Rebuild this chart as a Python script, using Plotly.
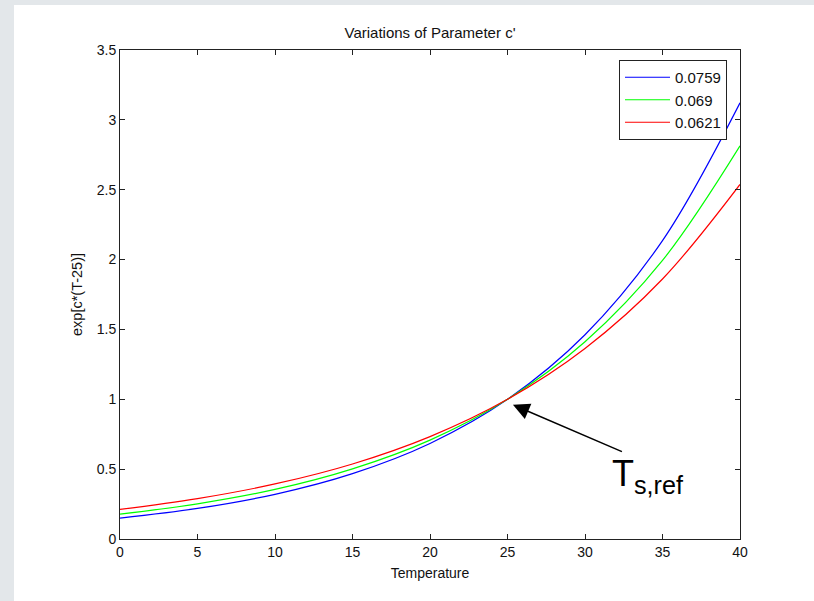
import plotly.graph_objects as go

temperature = [0, 5, 10, 15, 20, 25, 30, 35, 40]
labels = ["0.0759", "0.069", "0.0621"]
blue_vals = [0.150, 0.219, 0.320, 0.468, 0.684, 1.0, 1.462, 2.136, 3.122]
green_vals = [0.178, 0.252, 0.355, 0.502, 0.708, 1.0, 1.412, 1.994, 2.814]
red_vals = [0.212, 0.289, 0.394, 0.537, 0.733, 1.0, 1.364, 1.861, 2.538]
colors = ["#0000ff", "#00ff00", "#ff0000"]
x_ticks = [0, 5, 10, 15, 20, 25, 30, 35, 40]
y_ticks = [0, 0.5, 1, 1.5, 2, 2.5, 3, 3.5]
y_ticktext = ["0", "0.5", "1", "1.5", "2", "2.5", "3", "3.5"]

fig = go.Figure()
for name, vals, col in zip(labels, [blue_vals, green_vals, red_vals], colors):
    fig.add_trace(go.Scatter(x=temperature, y=vals, mode="lines", name=name,
                             line=dict(color=col, width=1.2, shape="spline", smoothing=1.0)))

font_family = "Liberation Sans, Arial, sans-serif"
axis_common = dict(showline=True, linecolor="#222222", linewidth=1, mirror="ticks",
                   ticks="inside", ticklen=5, tickcolor="#222222", showgrid=False,
                   zeroline=False, tickfont=dict(size=14, color="#111111", family=font_family))

fig.update_layout(
    width=814, height=601,
    margin=dict(l=120, r=74, t=50, b=62),
    paper_bgcolor="#e3e7ea", plot_bgcolor="white",
    font=dict(family=font_family, color="#111111"),
    title=dict(text="Variations of Parameter c'", x=(120 + 740) / 2 / 814, xanchor="center",
               y=1 - 33 / 601, yanchor="middle", font=dict(size=15)),
    xaxis=dict(range=[0, 40], tickvals=x_ticks, title=dict(text="Temperature", font=dict(size=14), standoff=9),
               **axis_common),
    yaxis=dict(range=[0, 3.5], tickvals=y_ticks, ticktext=y_ticktext,
               title=dict(text="exp[c*(T-25)]", font=dict(size=14.5), standoff=10), **axis_common),
    legend=dict(x=(727 - 120) / 620, xanchor="right", y=(539 - 60) / 489, yanchor="top", bgcolor="white",
                bordercolor="#222222", borderwidth=1, font=dict(size=15),
                tracegroupgap=0, itemwidth=45),
    showlegend=True,
)

fig.add_shape(type="rect", xref="paper", yref="paper", layer="below",
              x0=-106 / 620, x1=1 + 74 / 620, y0=-62 / 489, y1=1 + 45 / 489,
              fillcolor="white", line=dict(width=0))

fig.add_annotation(x=25.35, y=0.96, xref="x", yref="y", ax=112, ay=48, axref="pixel", ayref="pixel",
                   text=" ", showarrow=True, arrowhead=2, arrowsize=2.2, arrowwidth=1.5, arrowcolor="black")
fig.add_annotation(x=(610 - 120) / 620, y=(539 - 476) / 489, xref="paper", yref="paper",
                   text="T<sub>s,ref</sub>", showarrow=False, xanchor="left", yanchor="middle",
                   font=dict(size=36, color="black", family=font_family))

fig.write_html("out.html", post_script="document.body.style.margin='0px';",
               config={"displayModeBar": False})
